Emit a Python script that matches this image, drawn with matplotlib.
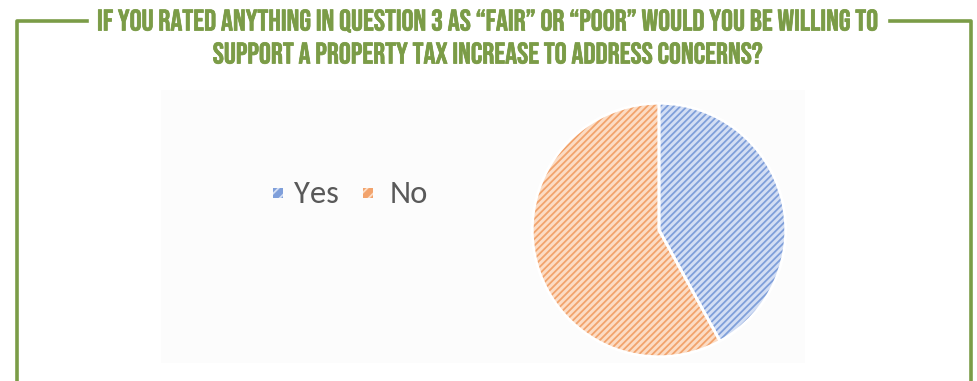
import matplotlib.pyplot as plt
import matplotlib.patheffects as pe
from matplotlib.patches import Rectangle
from matplotlib.lines import Line2D

plt.rcParams['hatch.linewidth'] = 1.3

# survey answers (share of respondents)
labels = ['Yes', 'No']
shares = [42, 58]

title_lines = ['IF YOU RATED ANYTHING IN QUESTION 3 AS \u201cFAIR\u201d OR \u201cPOOR\u201d WOULD YOU BE WILLING TO',
               'SUPPORT A PROPERTY TAX INCREASE TO ADDRESS CONCERNS?']

green = '#7b9c47'
stripe = ['#7f9fda', '#f2a36c']
tint = ['#d3def4', '#fcdcc4']
hatch = '/////'

W, H = 977, 381
fig = plt.figure(figsize=(W / 100, H / 100), dpi=100)
fig.patch.set_facecolor('white')

# pixel-space overlay for frame, title and legend
frame = fig.add_axes([0, 0, 1, 1])
frame.set_xlim(0, W)
frame.set_ylim(H, 0)
frame.axis('off')
frame.add_patch(Rectangle((161, 90), 644, 273, facecolor='#fcfcfc', edgecolor='none'))

titles = []
for y, txt in zip([21, 53], title_lines):
    t = frame.text(W / 2, y, txt, ha='center', va='center', color=green,
                   fontsize=21.5, family=['Bebas Neue', 'DejaVu Sans'],
                   path_effects=[pe.withStroke(linewidth=0.5, foreground=green)])
    titles.append(t)

# green bracket: horizontal arms stop just short of the first title line
fig.canvas.draw()
bb = titles[0].get_window_extent()
x0, x1 = bb.x0 - 10, bb.x1 + 10
frame.add_line(Line2D([17, 17, x0], [H + 5, 21, 21], color=green, lw=2.6))
frame.add_line(Line2D([x1, 971, 971], [21, 21, H + 5], color=green, lw=2.6))

# legend
for (px, tx), lab, t, c in zip([(273, 294), (363, 390)], labels, tint, stripe):
    frame.add_patch(Rectangle((px, 188), 10, 10, facecolor=c, edgecolor=t, hatch='///', linewidth=0))
    frame.text(tx, 194, lab, ha='left', va='center', color='#595959', fontsize=23.5,
               family=['Carlito', 'DejaVu Sans'])

# pie, centred at (659, 230) px with radius 128 px
cx, cy, r = 659, 230, 128
ax = fig.add_axes([(cx - r) / W, (H - cy - r) / H, 2 * r / W, 2 * r / H])
wedges, _ = ax.pie(shares, startangle=90, counterclock=False, radius=1,
                   colors=tint, wedgeprops=dict(linewidth=0))
for w, c in zip(wedges, stripe):
    w.set_hatch(hatch)
    w.set_edgecolor(c)
ax.pie(shares, startangle=90, counterclock=False, radius=1,
       colors=['none', 'none'], wedgeprops=dict(linewidth=2.0, edgecolor='white'))
ax.set_xlim(-1.01, 1.01)
ax.set_ylim(-1.01, 1.01)
ax.set_aspect('equal')

fig.savefig('out.png', dpi=100, facecolor='white')
